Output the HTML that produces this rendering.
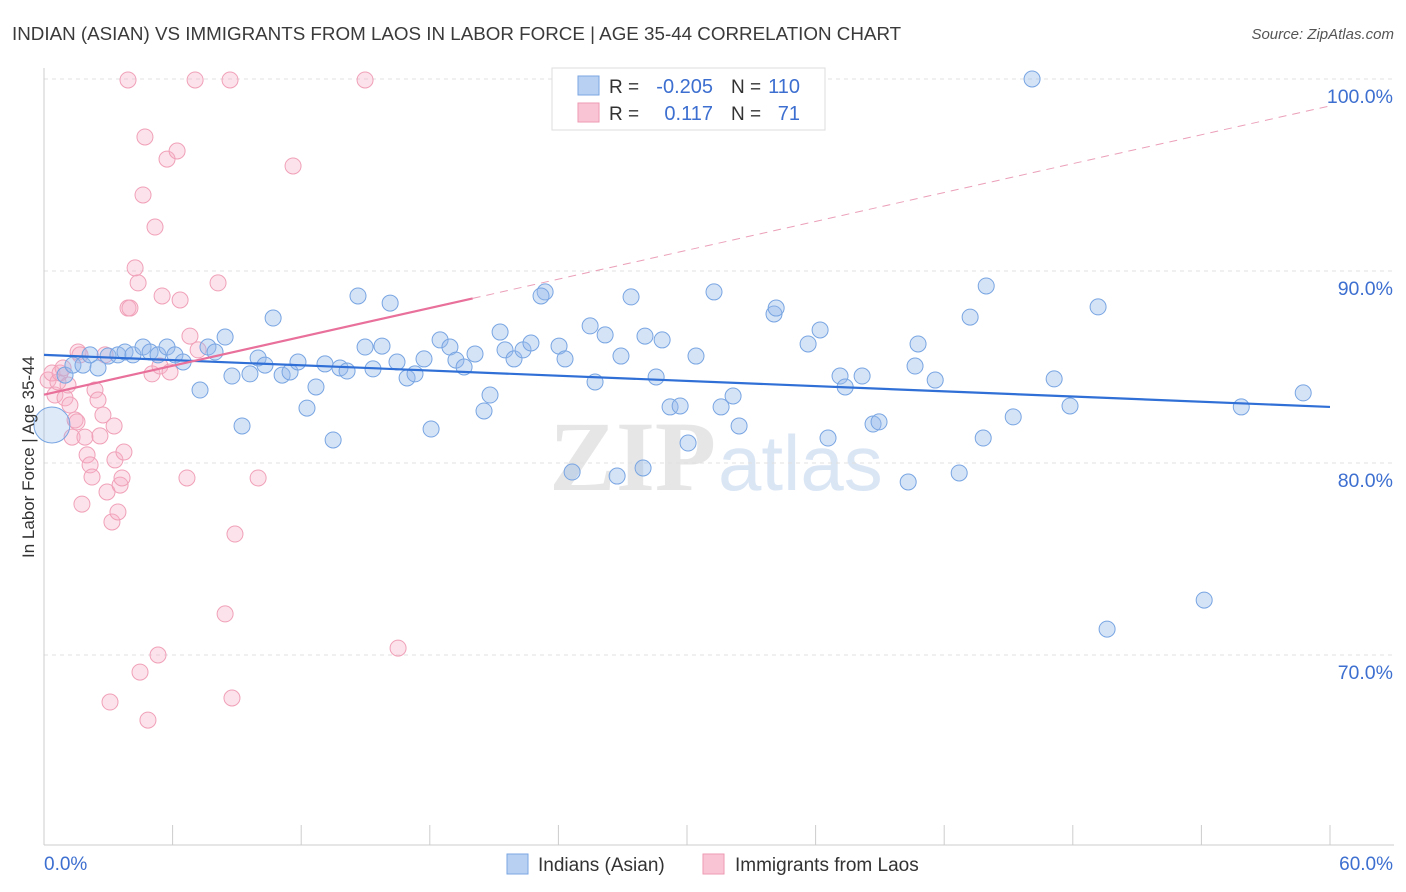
<!DOCTYPE html>
<html><head><meta charset="utf-8"><style>
body{margin:0;width:1406px;height:892px;background:#fff;font-family:"Liberation Sans",sans-serif;overflow:hidden}
svg{position:absolute;left:0;top:0}
</style></head><body>
<svg id="chart" width="1406" height="892">
<text x="12" y="40" font-size="18.8" fill="#3a3a3a">INDIAN (ASIAN) VS IMMIGRANTS FROM LAOS IN LABOR FORCE | AGE 35-44 CORRELATION CHART</text>
<text x="1394" y="39" font-size="15" fill="#555" text-anchor="end" font-style="italic">Source: ZipAtlas.com</text>
<text x="716" y="490" font-size="100" fill="#e6e6e6" text-anchor="end" font-family="Liberation Serif" font-weight="bold">ZIP</text>
<text x="718" y="490" font-size="78" fill="#dbe6f5">atlas</text>
<g id="grid"></g>
<g id="axes"></g>
<g id="pts"></g>
<g id="lines"></g>
<text transform="translate(34,457) rotate(-90)" font-size="17" fill="#333" text-anchor="middle">In Labor Force | Age 35-44</text>
<text x="44" y="870" font-size="19" fill="#3d6fd0">0.0%</text>
<text x="1393" y="870" font-size="19" fill="#3d6fd0" text-anchor="end">60.0%</text>
<g>
<rect x="552" y="68" width="273" height="62" fill="#fff" stroke="#ddd"/>
<rect x="578" y="76" width="21" height="19" fill="#b8d1f3" stroke="#7aa6e0"/>
<rect x="578" y="103" width="21" height="19" fill="#f9c5d4" stroke="#ee9ab3"/>
<text x="609" y="93" font-size="19" fill="#333">R = </text><text x="713" y="93" font-size="20" fill="#3d6fd0" text-anchor="end">-0.205</text>
<text x="731" y="93" font-size="19" fill="#333">N = </text><text x="800" y="93" font-size="20" fill="#3d6fd0" text-anchor="end">110</text>
<text x="609" y="120" font-size="19" fill="#333">R = </text><text x="713" y="120" font-size="20" fill="#3d6fd0" text-anchor="end">0.117</text>
<text x="731" y="120" font-size="19" fill="#333">N = </text><text x="800" y="120" font-size="20" fill="#3d6fd0" text-anchor="end">71</text>
</g>
<g>
<rect x="507" y="854" width="21" height="20" fill="#b8d1f3" stroke="#7aa6e0"/>
<text x="538" y="871" font-size="19" fill="#333">Indians (Asian)</text>
<rect x="703" y="854" width="21" height="20" fill="#f9c5d4" stroke="#ee9ab3"/>
<text x="735" y="871" font-size="19" fill="#333">Immigrants from Laos</text>
</g>
</svg>
<script>
const yTicks=[70,80,90,100];
const xTicks=[0,6,12,18,24,30,36,42,48,54,60];
const blueX=[0.37,0.98,1.35,1.82,2.52,2.15,2.99,3.45,3.78,4.15,4.62,4.95,5.32,5.74,6.11,6.49,7.28,7.65,7.98,8.45,8.77,9.24,9.61,9.99,10.31,10.69,11.11,11.48,11.85,12.27,12.69,13.11,13.49,13.81,14.14,14.65,14.98,15.35,15.77,16.15,16.47,16.94,17.31,17.73,18.06,18.48,18.94,19.22,19.6,20.11,20.53,20.81,21.28,21.51,21.93,22.35,22.72,23.38,23.19,24.03,24.31,24.64,25.48,25.71,26.18,26.74,26.92,27.39,27.95,28.04,28.56,28.84,29.21,29.68,30.05,30.42,31.26,31.59,32.15,32.43,34.06,34.16,35.65,36.21,36.58,37.14,37.38,38.17,38.68,38.96,40.32,40.64,40.78,41.58,42.7,43.21,43.82,43.96,45.22,46.1,47.13,47.87,49.18,49.6,54.13,55.86,58.75];
const blueY=[81.98,84.58,85.1,85.1,84.95,85.63,85.57,85.63,85.78,85.63,86.04,85.78,85.63,86.04,85.63,85.26,83.8,86.04,85.78,86.56,84.53,81.93,84.64,85.47,85.1,87.55,84.58,84.74,85.26,82.86,83.96,85.16,81.2,84.95,84.79,88.7,86.04,84.9,86.09,88.33,85.26,84.43,84.64,85.42,81.77,86.41,86.04,85.36,85.0,85.68,82.71,83.54,86.82,85.89,85.42,85.89,86.25,88.91,88.7,86.09,85.42,79.53,87.14,84.22,86.67,79.32,85.57,88.65,79.74,86.61,84.48,86.41,82.92,82.97,81.04,85.57,88.91,82.92,83.49,81.93,87.76,88.07,86.2,86.93,81.3,84.53,83.96,84.53,82.03,82.14,79.01,85.05,86.2,84.32,79.48,87.6,81.3,89.22,82.4,100,84.38,82.97,88.13,71.35,72.86,82.92,83.65];
const pinkX=[0.19,0.37,0.51,0.65,0.75,0.89,0.98,1.12,1.21,1.31,1.45,1.54,1.59,1.68,1.77,1.91,2.01,2.15,2.24,2.38,2.52,2.61,2.75,2.85,2.94,3.08,3.17,3.27,3.31,3.45,3.55,3.64,3.73,3.92,3.92,4.01,4.25,4.39,4.48,4.62,4.71,4.85,5.04,5.18,5.32,5.41,5.51,5.74,5.88,6.21,6.35,6.67,6.81,7.05,7.19,8.12,8.45,8.68,8.77,8.91,9.99,11.62,14.98,16.52];
const pinkY=[84.32,84.69,83.54,84.22,84.69,84.95,83.39,84.06,83.02,81.35,82.24,82.14,85.78,85.63,77.86,81.35,80.42,79.9,79.27,83.8,83.28,81.41,82.5,85.63,78.49,67.55,76.93,81.93,80.16,77.45,78.85,79.22,80.57,99.95,88.07,88.07,90.16,89.38,69.11,93.96,96.98,66.61,84.64,92.29,70.0,85.05,88.7,95.83,84.74,96.25,88.49,79.22,86.61,99.95,85.89,89.38,72.14,99.95,67.76,76.3,79.22,95.47,99.95,70.36];
const blueTrend=[85.63,82.92]; // y at x=0 and x=60
const pinkTrend=[83.56,98.6];  // y at x=0 and x=60
const pinkSolidEnd=20;
const NS="http://www.w3.org/2000/svg";
const X=v=>44+v*1286/60, Y=v=>79+(100-v)*19.2;
function mk(tag,attrs,parent){const e=document.createElementNS(NS,tag);for(const k in attrs)e.setAttribute(k,attrs[k]);parent.appendChild(e);return e;}
const grid=document.getElementById('grid'),axes=document.getElementById('axes'),pts=document.getElementById('pts'),lines=document.getElementById('lines');
yTicks.forEach(t=>{
 const l=mk('line',{x1:44,x2:1394,y1:Y(t),y2:Y(t),stroke:'#e0e0e0','stroke-dasharray':'4,4'},grid);
 
 
 const tx=mk('text',{x:1393,y:Y(t)+24,'font-size':19.5,fill:'#3d6fd0','text-anchor':'end'},grid);
 tx.textContent=t.toFixed(1)+'%';
 
 
});
let a=mk('line',{x1:44,x2:44,y1:68,y2:845,stroke:'#ccc'},axes);


a=mk('line',{x1:44,x2:1394,y1:845,y2:845,stroke:'#ccc'},axes);


xTicks.forEach(t=>{
 const l=mk('line',{x1:X(t),x2:X(t),y1:825,y2:845,stroke:'#ccc'},axes);
 
 
});
function dots(xs,ys,fill,stroke,name){xs.forEach((x,i)=>{
 const big=(name==='indian-point'&&i===0);
 const c=mk('circle',{cx:X(x),cy:Y(ys[i]),r:big?18:8,fill:big?'rgba(150,185,235,0.3)':fill,stroke:stroke,'stroke-width':1},pts);
 
 
});}
dots(pinkX,pinkY,'rgba(246,176,198,0.35)','#f0a0b8','laos-point');
dots(blueX,blueY,'rgba(150,185,235,0.4)','#78a5e2','indian-point');
const py=x=>pinkTrend[0]+(pinkTrend[1]-pinkTrend[0])*x/60;
let ln=mk('line',{x1:X(0),y1:Y(blueTrend[0]),x2:X(60),y2:Y(blueTrend[1]),stroke:'#2f6fd6','stroke-width':2.2},lines);


ln=mk('line',{x1:X(0),y1:Y(py(0)),x2:X(pinkSolidEnd),y2:Y(py(pinkSolidEnd)),stroke:'#e8709a','stroke-width':2.2},lines);


ln=mk('line',{x1:X(pinkSolidEnd),y1:Y(py(pinkSolidEnd)),x2:X(60),y2:Y(py(60)),stroke:'#eba0b8','stroke-width':1,'stroke-dasharray':'8,6'},lines);


</script>
</body></html>
